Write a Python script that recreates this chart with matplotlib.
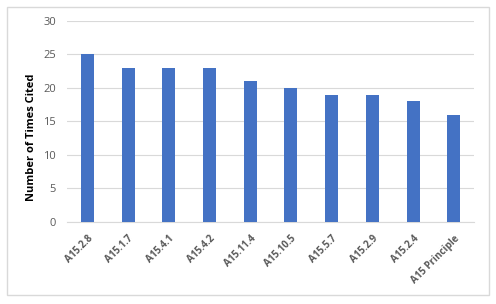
import matplotlib.pyplot as plt
from matplotlib.patches import Rectangle

categories = ['A15.2.8', 'A15.1.7', 'A15.4.1', 'A15.4.2', 'A15.11.4',
              'A15.10.5', 'A15.5.7', 'A15.2.9', 'A15.2.4', 'A15 Principle']
times_cited = [25, 23, 23, 23, 21, 20, 19, 19, 18, 16]

plt.rcParams['font.family'] = ['Open Sans', 'DejaVu Sans']

fig = plt.figure(figsize=(4.96, 3.04), dpi=100)
ax = fig.add_axes([0.135, 0.270, 0.821, 0.661])

# outer chart border
fig.patches.append(Rectangle((7 / 496, 9 / 304), 482 / 496, 288 / 304,
                             transform=fig.transFigure, fill=False,
                             edgecolor='#d9d9d9', linewidth=1))

ax.bar(range(len(categories)), times_cited, width=0.32, color='#4472c4', zorder=3)

ax.set_xlim(-0.5, len(categories) - 0.5)
ax.set_ylim(0, 30)
ax.set_yticks(range(0, 31, 5))
ax.yaxis.grid(True, color='#d9d9d9', linewidth=0.8, zorder=0)

ax.set_xticks(range(len(categories)))
ax.set_xticklabels(categories, rotation=45, ha='right', rotation_mode='anchor',
                   fontsize=7, fontweight='bold', color='#595959')
ax.tick_params(axis='y', labelsize=8, labelcolor='#595959', length=0, pad=8)
ax.tick_params(axis='x', length=0, pad=8)

for side in ['top', 'right', 'left']:
    ax.spines[side].set_visible(False)
ax.spines['bottom'].set_color('#d9d9d9')

ax.set_ylabel('Number of Times Cited', fontsize=8, fontweight='bold')
ax.yaxis.set_label_coords(-0.073, 0.42)

fig.savefig('out.png', dpi=100)
